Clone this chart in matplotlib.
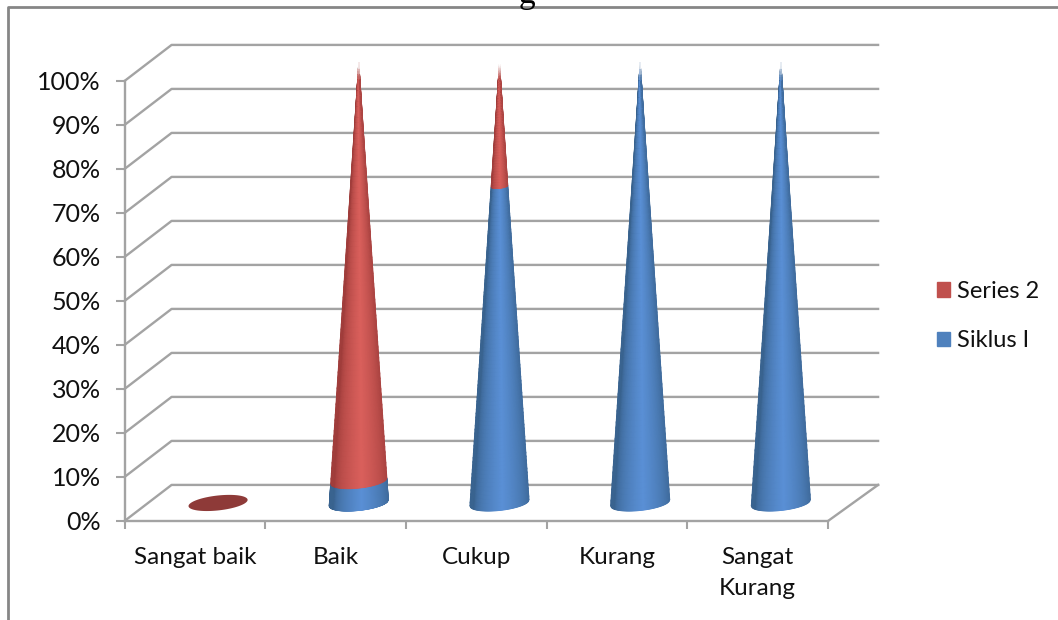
import numpy as np
import matplotlib
matplotlib.use('Agg')
import matplotlib.pyplot as plt
from matplotlib.lines import Line2D
from matplotlib.patches import Patch
from matplotlib.transforms import ScaledTranslation

plt.rcParams['font.family'] = ['Lato', 'DejaVu Sans']

categories = ['Sangat baik', 'Baik', 'Cukup', 'Kurang', 'Sangat\nKurang']
siklus_1 = [0, 5, 72, 100, 100]
series_2 = [0, 95, 28, 0, 0]
y_ticks = [0, 10, 20, 30, 40, 50, 60, 70, 80, 90, 100]

GRID = '#a3a3a3'
BLUE = '#4f81bd'
RED = '#c0504d'
BLUE_EDGE, BLUE_MID = '#39638f', '#5a90d6'
RED_EDGE, RED_MID = '#a03d3b', '#da605c'

# depth of the fake 3d box, in data units
DX = 0.356
DY = 8.2
CONE_SHIFT = 0.165
CONE_W = 0.21
CONE_E = 1.7
CONE_TILT = 0.7


def cone_part(ax, cx, base, h0, h1, edge, mid):
    # front face of a cone between two heights, strips shaded left to right
    u = np.linspace(-1, 1, 61)
    h = np.linspace(h0, h1, 80)
    uu, hh = np.meshgrid(u, h)
    shrink = 1 - hh / 100
    X = cx + CONE_W * shrink * uu
    Y = base + hh + shrink * (CONE_TILT * uu - CONE_E * np.sqrt(1 - uu ** 2))
    e = np.array(matplotlib.colors.to_rgb(edge))
    m = np.array(matplotlib.colors.to_rgb(mid))
    t = np.clip(1 - np.abs(uu - 0.1) / 0.95, 0, 1)[..., None] ** 0.55
    rgb = e + (m - e) * t
    fade = np.clip((hh - 96.5) / 3, 0, 1)[..., None]
    rgb = rgb + (1 - rgb) * fade
    ax.pcolormesh(X, Y, rgb, shading='gouraud', zorder=3, clip_on=False)


fig = plt.figure(figsize=(10.58, 6.2), dpi=100)
ax = fig.add_axes([124.5 / 1058, 1 - 521 / 620, (828 - 124.5) / 1058, (521 - 81) / 620])

# back wall, side wall and floor
for p in y_ticks:
    ax.plot([0, DX * 0.94, 5 + DX], [p, p + DY, p + DY], color=GRID, lw=1.7, zorder=1, clip_on=False)
ax.plot([5, 5 + DX], [0, DY], color=GRID, lw=1.7, zorder=1, clip_on=False)

for i, cat in enumerate(categories):
    cx = i + 0.5 + CONE_SHIFT
    base = DY / 2
    a = siklus_1[i]
    b = series_2[i]
    if a + b == 0:
        t = np.linspace(0, 2 * np.pi, 100)
        ax.fill(cx + CONE_W * np.cos(t), base + CONE_E * np.sin(t) + CONE_TILT * np.cos(t),
                color='#8e3a38', lw=0, zorder=3, clip_on=False)
        continue
    if a > 0:
        cone_part(ax, cx, base, 0, a, BLUE_EDGE, BLUE_MID)
    if b > 0:
        cone_part(ax, cx, base, a, a + b, RED_EDGE, RED_MID)

ax.set_xlim(0, 5)
ax.set_ylim(0, 100)
ax.set_yticks(y_ticks)
ax.set_yticklabels(['%d%%' % v for v in y_ticks], fontsize=18, color='#111111')
# labels sit a little under their ticks in the source
down = ScaledTranslation(0, -3 / 100, fig.dpi_scale_trans)
for lab in ax.get_yticklabels():
    lab.set_transform(lab.get_transform() + down)
ax.set_xticks(range(6))
ax.set_xticklabels([])
ax.set_xticks(np.arange(5) + 0.5, minor=True)
ax.set_xticklabels(categories, minor=True, fontsize=17.5, color='#111111', linespacing=1.6)
ax.tick_params(axis='y', length=6.5, width=1.5, color=GRID, pad=10.5)
ax.tick_params(axis='x', which='major', length=5.5, width=1.5, color=GRID)
ax.tick_params(axis='x', which='minor', length=0, pad=18.5)
for s in ['top', 'right']:
    ax.spines[s].set_visible(False)
for s in ['left', 'bottom']:
    ax.spines[s].set_color(GRID)
    ax.spines[s].set_linewidth(1.7)
ax.patch.set_visible(False)

handles = [Patch(color=RED, label='Series 2'), Patch(color=BLUE, label='Siklus I')]
fig.legend(handles=handles, loc='center left', bbox_to_anchor=(916 / 1058, 1 - 316 / 620),
           frameon=False, fontsize=17, handlelength=0.56, handleheight=0.56,
           handletextpad=0.28, labelspacing=1.2, labelcolor='#111111')

# chart frame, cropped in the source
fig.add_artist(Line2D([8 / 1058, 8 / 1058, 1], [0, 1 - 7 / 620, 1 - 7 / 620], color='#868686', lw=2))

# title is cut off at the top edge, only a descender shows
fig.text(527 / 1058, 1 - 3 / 620, 'g', family='Liberation Serif', fontsize=24, ha='center', va='baseline')

fig.savefig('out.png', dpi=100)
